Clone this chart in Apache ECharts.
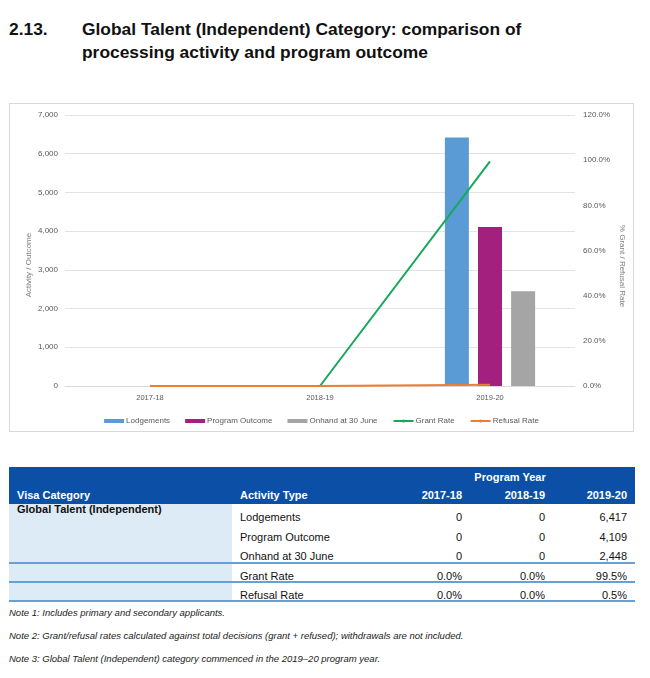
<!DOCTYPE html>
<html><head><meta charset="utf-8">
<script src="https://cdn.jsdelivr.net/npm/echarts@6/dist/echarts.min.js"></script>
<style>
body{margin:0;background:#fff;font-family:"Liberation Sans",Arial,sans-serif;color:#111;}
#page{position:relative;width:650px;height:678px;overflow:hidden;background:#fff;}
.abs{position:absolute;white-space:nowrap;}
</style></head><body><div id="page">
<div class="abs" style="left:9px;top:18px;font-weight:bold;font-size:17.4px;line-height:23px;">2.13.</div>
<div class="abs" style="left:82px;top:18px;font-weight:bold;font-size:17.4px;line-height:23px;">Global Talent (Independent) Category: comparison of<br>processing activity and program outcome</div>
<div id="chart" style="position:absolute;left:9px;top:103px;width:623px;height:327px;border:1px solid #d9d9d9;"></div>
<div id="table"></div>
<div id="notes"></div>
</div>
<script>
const years = ['2017-18', '2018-19', '2019-20'];
const lodgements = [0, 0, 6417];
const programOutcome = [0, 0, 4109];
const onhand = [0, 0, 2448];
const grantRate = [0.0, 0.0, 99.5];
const refusalRate = [0.0, 0.0, 0.5];
const seriesNames = ['Lodgements', 'Program Outcome', 'Onhand at 30 June', 'Grant Rate', 'Refusal Rate'];
const notes = [
  'Note 1: Includes primary and secondary applicants.',
  'Note 2: Grant/refusal rates calculated against total decisions (grant + refused); withdrawals are not included.',
  'Note 3: Global Talent (Independent) category commenced in the 2019\u201320 program year.'
];

const txt = '#595959';
const chart = echarts.init(document.getElementById('chart'), null, {renderer: 'canvas'});
chart.setOption({
  animation: false,
  textStyle: {fontFamily: 'Liberation Sans, Arial, sans-serif'},
  grid: {left: 55, right: 58, top: 11, bottom: 45},
  legend: {
    top: 308, left: 'center', itemGap: 15, itemWidth: 20, itemHeight: 4,
    textStyle: {fontSize: 8, color: txt, padding: [0, 0, 0, -3]},
    data: [
      {name: seriesNames[0], icon: 'rect'},
      {name: seriesNames[1], icon: 'rect'},
      {name: seriesNames[2], icon: 'rect'},
      {name: seriesNames[3]},
      {name: seriesNames[4]}
    ]
  },
  xAxis: {
    type: 'category', data: years,
    axisLine: {lineStyle: {color: '#d9d9d9'}},
    axisTick: {show: false},
    axisLabel: {fontSize: 7.5, color: txt, margin: 8}
  },
  yAxis: [
    {type: 'value', min: 0, max: 7000, interval: 1000,
     axisLine: {show: false}, axisTick: {show: false},
     axisLabel: {fontSize: 8, color: txt, margin: 7,
       formatter: v => v.toLocaleString('en-US')},
     splitLine: {lineStyle: {color: '#e3e3e3', width: 1}}},
    {type: 'value', min: 0, max: 120, interval: 20,
     axisLine: {show: false}, axisTick: {show: false},
     axisLabel: {fontSize: 8, color: txt, margin: 8,
       formatter: v => v.toFixed(1) + '%'},
     splitLine: {show: false}}
  ],
  graphic: [
    {type: 'text', x: 19, y: 161, rotation: Math.PI / 2,
     style: {text: 'Activity / Outcome', fontSize: 8, fill: '#7f7f7f', align: 'center', verticalAlign: 'middle'}},
    {type: 'text', x: 612, y: 162, rotation: -Math.PI / 2,
     style: {text: '% Grant / Refusal Rate', fontSize: 8, fill: '#7f7f7f', align: 'center', verticalAlign: 'middle'}}
  ],
  series: [
    {name: seriesNames[0], type: 'bar', data: lodgements, barWidth: 24, barGap: '38%', itemStyle: {color: '#5b9bd5'}},
    {name: seriesNames[1], type: 'bar', data: programOutcome, barWidth: 24, barGap: '38%', itemStyle: {color: '#a3207f'}},
    {name: seriesNames[2], type: 'bar', data: onhand, barWidth: 24, barGap: '38%', itemStyle: {color: '#a5a5a5'}},
    {name: seriesNames[3], type: 'line', yAxisIndex: 1, data: grantRate, showSymbol: false, symbol: 'none',
     lineStyle: {color: '#16a85a', width: 2}, itemStyle: {color: '#16a85a'}, z: 3},
    {name: seriesNames[4], type: 'line', yAxisIndex: 1, data: refusalRate, showSymbol: false, symbol: 'none',
     lineStyle: {color: '#ed7d31', width: 2}, itemStyle: {color: '#ed7d31'}, z: 4}
  ]
});

// Table
const tbl = document.getElementById('table');
function box(l, t, w, h, bg) {
  const d = document.createElement('div');
  d.style.cssText = `position:absolute;left:${l}px;top:${t}px;width:${w}px;height:${h}px;background:${bg};`;
  tbl.appendChild(d);
}
function text(s, x, cy, opts) {
  opts = opts || {};
  const d = document.createElement('div');
  d.className = 'abs';
  d.textContent = s;
  const fs = opts.fs || 11;
  let css = `top:${cy - 8}px;height:16px;line-height:16px;font-size:${fs}px;color:${opts.color || '#111'};` +
    (opts.bold ? 'font-weight:bold;' : '') + (opts.italic ? 'font-style:italic;' : '');
  if (opts.align === 'right') css += `right:${650 - x}px;text-align:right;`;
  else if (opts.align === 'center') css += `left:${x - 100}px;width:200px;text-align:center;`;
  else css += `left:${x}px;`;
  d.style.cssText = css;
  (opts.parent || tbl).appendChild(d);
}
box(9, 467, 626, 37, '#0b4fa6');
box(9, 504, 223, 97, '#ddebf7');
text('Program Year', 510, 477, {bold: true, color: '#fff', fs: 11, align: 'center'});
text('Visa Category', 17, 495, {bold: true, color: '#fff', fs: 11});
text('Activity Type', 240, 495, {bold: true, color: '#fff', fs: 11});
const colRight = [462, 545, 627];
years.forEach((y, i) => text(y, colRight[i], 495, {bold: true, color: '#fff', fs: 11, align: 'right'}));
text('Global Talent (Independent)', 17, 509, {bold: true, fs: 11});
const fmtN = v => v.toLocaleString('en-US');
const fmtP = v => v.toFixed(1) + '%';
const rows = [
  [seriesNames[0], lodgements, fmtN, 517],
  [seriesNames[1], programOutcome, fmtN, 537],
  [seriesNames[2], onhand, fmtN, 556],
  [seriesNames[3], grantRate, fmtP, 576],
  [seriesNames[4], refusalRate, fmtP, 595]
];
rows.forEach(r => {
  text(r[0], 240, r[3]);
  r[1].forEach((v, i) => text(r[2](v), colRight[i], r[3], {align: 'right'}));
});
[563, 582, 601].forEach(y => box(9, y - 1, 626, 2, '#6a9fd4'));

const nt = document.getElementById('notes');
const noteY = [613, 636, 659];
notes.forEach((n, i) => text(n, 9, noteY[i], {italic: true, fs: 9.5, color: '#222', parent: nt}));
</script>
</body></html>
